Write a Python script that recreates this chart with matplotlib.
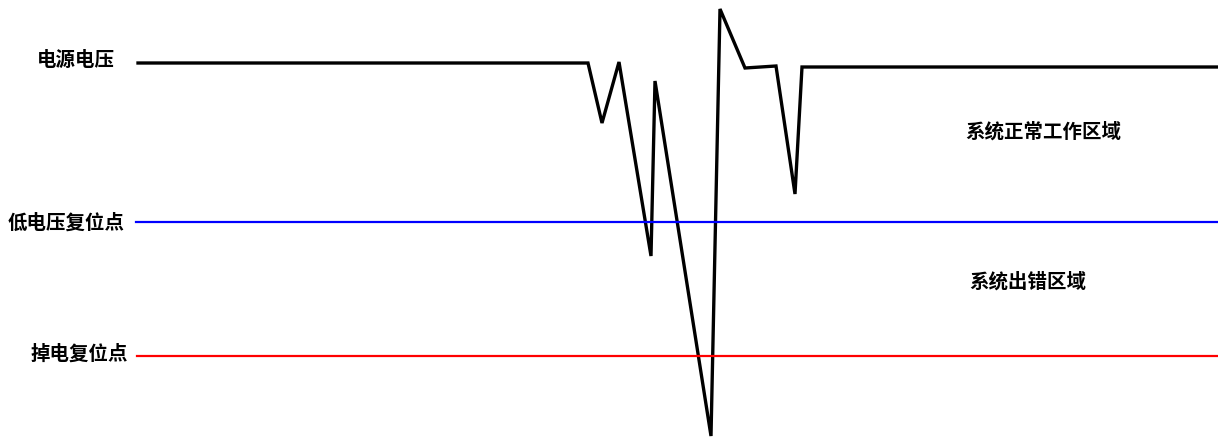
import matplotlib
matplotlib.use("Agg")
import matplotlib.pyplot as plt

plt.rcParams["font.family"] = ["Noto Sans CJK SC", "DejaVu Sans"]

# supply voltage trace (screen units: x = time, y = level, y grows downward)
volt_t = [138, 588, 602, 619, 651, 655, 711, 720, 745, 776, 795, 802, 1218]
volt_v = [64, 64, 124, 63, 257, 82, 437, 10, 69, 67, 195, 68, 68]

# reset thresholds
lvr_level = 223   # 低电压复位点
por_level = 357   # 掉电复位点
line_start = 136

labels_left = ["电源电压", "低电压复位点", "掉电复位点"]
labels_left_x = [76, 66, 79]
labels_left_y = [60, 223, 354]

region_labels = ["系统正常工作区域", "系统出错区域"]
region_x = [1043, 1028]
region_y = [132, 282]

fig = plt.figure(figsize=(12.18, 4.39), dpi=100)
ax = fig.add_axes([0, 0, 1, 1])
ax.set_xlim(0, 1218)
ax.set_ylim(439, 0)
ax.axis("off")

ax.plot(volt_t, volt_v, color="black", lw=2.4, solid_joinstyle="miter")
ax.plot([line_start, 1218], [lvr_level, lvr_level], color="#0000ff", lw=1.6)
ax.plot([line_start + 1, 1218], [por_level, por_level], color="#ff0000", lw=1.6)

for s, x, y in zip(labels_left, labels_left_x, labels_left_y):
    ax.text(x, y, s, ha="center", va="center", fontsize=14, fontweight="bold")
for s, x, y in zip(region_labels, region_x, region_y):
    ax.text(x, y, s, ha="center", va="center", fontsize=14, fontweight="bold")

fig.savefig("out.png", dpi=100, facecolor="white")
plt.close(fig)
